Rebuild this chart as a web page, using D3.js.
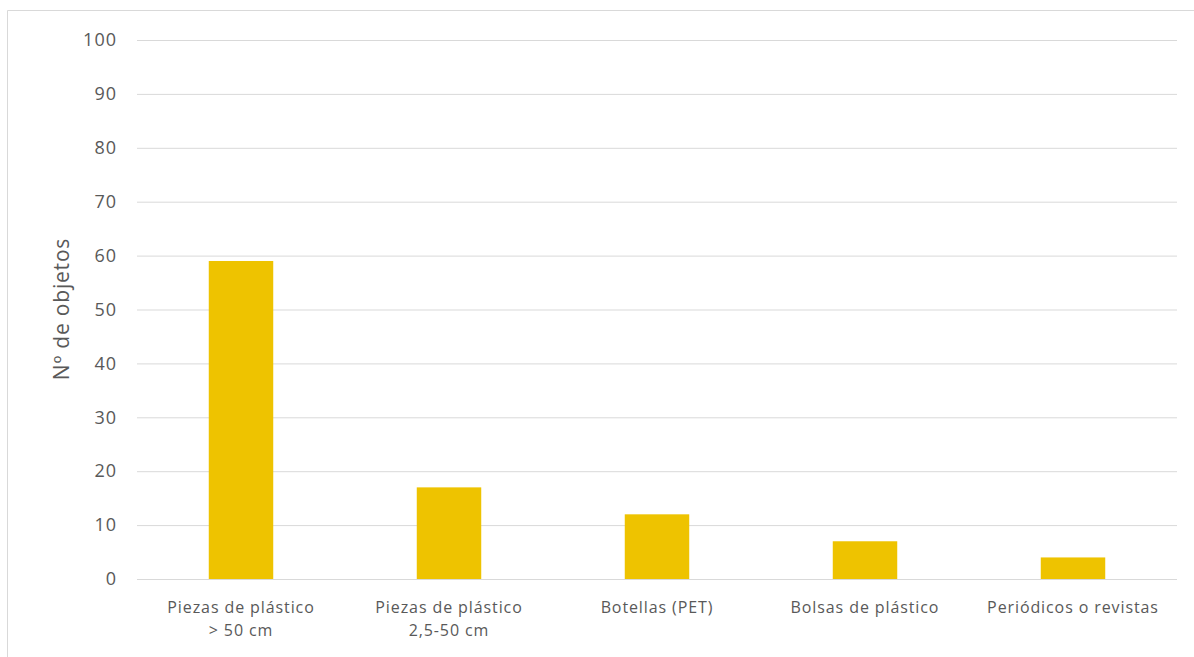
<!DOCTYPE html>
<html><head><meta charset="utf-8">
<script src="https://cdn.jsdelivr.net/npm/d3@7"></script>
<style>
body{margin:0;background:#fff;}
text{font-family:"Open Sans",sans-serif;fill:#595959;}
</style></head>
<body>
<svg id="chart" width="1194" height="657"></svg>
<script>
const categories = [["Piezas de plástico", "> 50 cm"], ["Piezas de plástico", "2,5-50 cm"], ["Botellas (PET)"], ["Bolsas de plástico"], ["Periódicos o revistas"]];
const values = [59, 17, 12, 7, 4];
const yTicks = [0, 10, 20, 30, 40, 50, 60, 70, 80, 90, 100];
const yTitle = "Nº de objetos";

const svg = d3.select("#chart");
// frame
svg.append("line").attr("x1", 7.5).attr("x2", 7.5).attr("y1", 10.5).attr("y2", 657).attr("stroke", "#d9d9d9");
svg.append("line").attr("x1", 7.5).attr("x2", 1194).attr("y1", 10.5).attr("y2", 10.5).attr("stroke", "#d9d9d9");

const mLeft = 137, mRight = 1177, mTop = 40, mBottom = 579;
const x = d3.scaleBand().domain(d3.range(values.length)).range([mLeft, mRight]).paddingInner(0.69).paddingOuter(0.345);
const y = d3.scaleLinear().domain([0, 100]).range([mBottom, mTop]);

const yAxis = svg.append("g").attr("transform", `translate(${mLeft},0)`)
  .call(d3.axisLeft(y).tickValues(yTicks).tickSize(-(mRight - mLeft)).tickPadding(20));
yAxis.select(".domain").remove();
yAxis.selectAll(".tick line").attr("stroke", "#d9d9d9");
yAxis.selectAll(".tick text").style("font-size", "18px").style("letter-spacing", "1px").style("fill", "#595959");

svg.append("g").selectAll("rect").data(values).join("rect")
  .attr("x", (d, i) => x(i)).attr("width", x.bandwidth())
  .attr("y", d => y(d)).attr("height", d => y(0) - y(d))
  .attr("fill", "#EEC300");

const xl = svg.append("g").selectAll("text").data(categories).join("text")
  .attr("text-anchor", "middle").style("font-size", "16px").style("letter-spacing", "0.9px")
  .attr("transform", (d, i) => `translate(${x(i) + x.bandwidth() / 2},613)`);
xl.selectAll("tspan").data(d => d).join("tspan")
  .attr("x", 0).attr("dy", (d, j) => j === 0 ? 0 : 23).text(d => d);

svg.append("text").attr("transform", "translate(69,309) rotate(-90)")
  .attr("text-anchor", "middle").style("font-size", "21px").style("letter-spacing", "0.8px").text(yTitle);
</script>
</body></html>
